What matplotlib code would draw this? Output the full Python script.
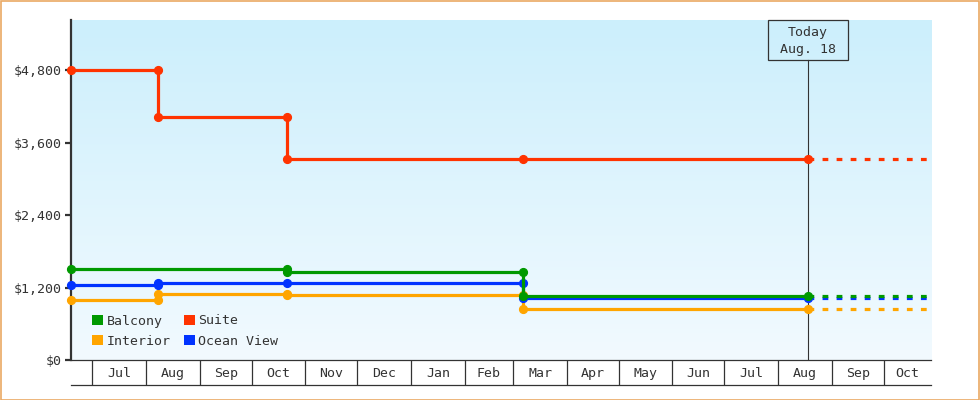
import datetime as dt
import numpy as np
import matplotlib
matplotlib.use("Agg")
import matplotlib.pyplot as plt
import matplotlib.dates as mdates
from matplotlib.ticker import FixedLocator
from matplotlib.patches import Patch, Rectangle
from matplotlib.lines import Line2D
from matplotlib.transforms import blended_transform_factory

# ---------------- data ----------------
series_names = ["Interior", "Ocean View", "Balcony", "Suite"]
series_colors = {"Balcony": "#009900", "Suite": "#ff3300",
                 "Interior": "#ffa500", "Ocean View": "#0033ff"}

start_date = dt.datetime(2024, 6, 18, 10)
end_date = dt.datetime(2025, 10, 28, 2)
today = dt.datetime(2025, 8, 18)

# price observations
balcony_dates = [dt.datetime(2024, 6, 18, 10), dt.datetime(2024, 10, 21, 12), dt.datetime(2025, 3, 6, 12), today]
balcony_prices = [1506, 1452, 1059, 1059]

ocean_dates = [dt.datetime(2024, 6, 18, 10), dt.datetime(2024, 8, 8), dt.datetime(2024, 10, 21, 12), dt.datetime(2025, 3, 6, 12), today]
ocean_prices = [1241, 1274, 1274, 1021, 1021]

interior_dates = [dt.datetime(2024, 6, 18, 10), dt.datetime(2024, 8, 8), dt.datetime(2024, 10, 21, 12), dt.datetime(2025, 3, 6, 12), today]
interior_prices = [993, 1087, 1071, 839, 839]

suite_dates = [dt.datetime(2024, 6, 18, 10), dt.datetime(2024, 8, 8), dt.datetime(2024, 10, 21, 12), dt.datetime(2025, 3, 6, 12), today]
suite_prices = [4800, 4017, 3322, 3322, 3322]

month_labels = ["Jul", "Aug", "Sep", "Oct", "Nov", "Dec", "Jan", "Feb",
                "Mar", "Apr", "May", "Jun", "Jul", "Aug", "Sep", "Oct"]
yticks = [0, 1200, 2400, 3600, 4800]
ymax = 5628

series_data = {
    "Balcony": (balcony_dates, balcony_prices),
    "Ocean View": (ocean_dates, ocean_prices),
    "Interior": (interior_dates, interior_prices),
    "Suite": (suite_dates, suite_prices),
}

# ---------------- figure ----------------
FONT = "DejaVu Sans Mono"
FS = 9.5
TXT = "#333333"
W, H = 980, 400
fig = plt.figure(figsize=(W / 100, H / 100), dpi=100)
fig.patch.set_facecolor("white")

L, R, T, B = 70.5, 930.7, 20, 360
ax = fig.add_axes([L / W, 1 - B / H, (R - L) / W, (B - T) / H])
ax.set_xlim(start_date, end_date)
ax.set_ylim(0, ymax)
ax.set_facecolor("none")

# gradient background
top = np.array([204, 239, 252]) / 255
bot = np.array([242, 250, 255]) / 255
t = np.linspace(0, 1, 256)[:, None]
grad = (top[None, :] * (1 - t) + bot[None, :] * t)[:, None, :]
ax.imshow(grad, extent=[0, 1, 0, 1], transform=ax.transAxes, aspect="auto",
          zorder=0, interpolation="bilinear")

# series
for name in series_names:
    dates, prices = series_data[name]
    xs, ys = [dates[0]], [prices[0]]
    for i in range(1, len(dates)):
        xs.append(dates[i]); ys.append(prices[i - 1])
        if prices[i] != prices[i - 1]:
            xs.append(dates[i]); ys.append(prices[i])
    c = series_colors[name]
    ax.plot(xs, ys, color=c, lw=2.3, marker="o", ms=5.6, mec=c, mfc=c,
            zorder=3, solid_capstyle="butt", clip_on=False)
    ax.plot([dates[-1], end_date], [prices[-1], prices[-1]], color=c, lw=2.3,
            dashes=(1.8, 2.6), zorder=3, clip_on=False, dash_capstyle="butt")

# spines
for s in ["top", "right"]:
    ax.spines[s].set_visible(False)
ax.spines["left"].set_color(TXT)
ax.spines["left"].set_linewidth(1.6)
ax.spines["left"].set_zorder(2.5)
ax.spines["bottom"].set_color(TXT)
ax.spines["bottom"].set_linewidth(0.9)

# y axis
ax.set_yticks(yticks)
ax.set_yticklabels([f"${v:,}" for v in yticks], fontfamily=FONT, fontsize=FS, color=TXT)
ax.tick_params(axis="y", length=4, width=1.6, color=TXT, pad=2)

# x axis: month boxes
month_starts = [dt.datetime(2024 + (6 + k) // 12, (6 + k) % 12 + 1, 1) for k in range(len(month_labels))]
ax.xaxis.set_minor_locator(FixedLocator(mdates.date2num(month_starts)))
n0, n1 = mdates.date2num(start_date), mdates.date2num(end_date)
centers = []
for k, ms in enumerate(month_starts):
    a = mdates.date2num(ms)
    nm = dt.datetime(ms.year + (ms.month // 12), ms.month % 12 + 1, 1)
    b = mdates.date2num(nm)
    a, b = max(a, n0), min(b, n1)
    centers.append((a + b) / 2)
ax.set_xticks(centers)
ax.set_xticklabels(month_labels, fontfamily=FONT, fontsize=FS, color=TXT)
ax.tick_params(axis="x", which="major", length=0, pad=5)
ax.tick_params(axis="x", which="minor", length=18, width=0.9, color=TXT)

fig.add_artist(Line2D([L / W, R / W], [1 - 385 / H, 1 - 385 / H], color=TXT, lw=0.9))

# today marker
ax.axvline(today, ymin=0, ymax=(B - 60) / (B - T), color=TXT, lw=0.8, zorder=2)
tr = blended_transform_factory(ax.transData, ax.transAxes)
half = 40 / ((R - L) / (n1 - n0))
tn = mdates.date2num(today)
ax.add_patch(Rectangle((tn - half, (B - 60) / (B - T)), 2 * half, 40 / (B - T),
                       transform=tr, fill=False, ec=TXT, lw=0.9, zorder=4, clip_on=False))
ax.text(tn, (B - 32.5) / (B - T), "Today", transform=tr, ha="center", va="center",
        fontfamily=FONT, fontsize=FS, color=TXT)
ax.text(tn, (B - 49.5) / (B - T), "Aug. 18", transform=tr, ha="center", va="center",
        fontfamily=FONT, fontsize=FS, color=TXT)

# legend
leg_order = ["Balcony", "Interior", "Suite", "Ocean View"]
handles = [Patch(facecolor=series_colors[n], edgecolor="none", label=n) for n in leg_order]
leg = ax.legend(handles=handles, ncol=2, loc="upper left",
                bbox_to_anchor=(92 / W, 1 - 314.5 / H), bbox_transform=fig.transFigure,
                frameon=False, borderpad=0, borderaxespad=0,
                handlelength=0.85, handleheight=0.78, handletextpad=0.25,
                columnspacing=1.0, labelspacing=0.55,
                prop={"family": FONT, "size": FS})
for txt in leg.get_texts():
    txt.set_color(TXT)

# outer border
fig.add_artist(Rectangle((0.5 / W, 0.5 / H), (W - 1.5) / W, (H - 1.5) / H,
                         transform=fig.transFigure, fill=False, ec="#eaa964", lw=1.2))

fig.savefig("out.png", dpi=100)
